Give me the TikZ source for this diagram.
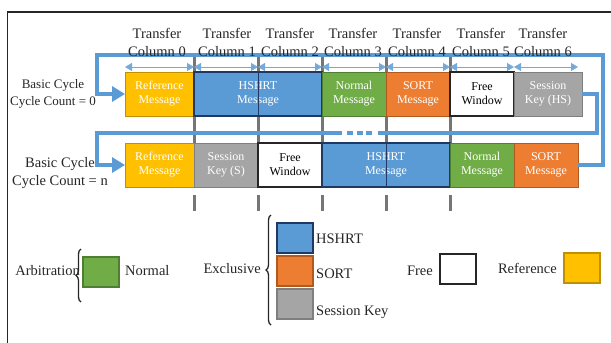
\documentclass[tikz,border=0pt]{standalone}
\usepackage{fontspec}
\setmainfont{Liberation Serif}
\usepackage{xcolor}
\usetikzlibrary{positioning,arrows.meta,calc,decorations.pathreplacing}
\definecolor{cRef}{HTML}{FFC000}
\definecolor{cRefD}{HTML}{BF9000}
\definecolor{cHs}{HTML}{5B9BD5}
\definecolor{cHsD}{HTML}{203864}
\definecolor{cNorm}{HTML}{70AD47}
\definecolor{cNormD}{HTML}{507E32}
\definecolor{cSort}{HTML}{ED7D31}
\definecolor{cSortD}{HTML}{AE5A21}
\definecolor{cKey}{HTML}{A5A5A5}
\definecolor{cKeyD}{HTML}{7F7F7F}
\definecolor{cLoop}{HTML}{5B9BD5}
\definecolor{cTick}{HTML}{767676}
\definecolor{cOut}{HTML}{262626}
\tikzset{
  fig/slot/.style={draw, line width=0.9pt, minimum height=44pt, minimum width=64pt,
                   inner sep=0pt, outer sep=0pt, align=center, text=white,
                   font=\fontsize{12}{14}\selectfont},
  fig/refslot/.style ={fig/slot, fill=cRef, draw=cRefD, minimum width=69pt},
  fig/hsslot/.style  ={fig/slot, fill=cHs, draw=cHsD, line width=1.3pt, minimum width=128pt},
  fig/normslot/.style={fig/slot, fill=cNorm, draw=cNormD},
  fig/sortslot/.style={fig/slot, fill=cSort, draw=cSortD},
  fig/keyslot/.style ={fig/slot, fill=cKey, draw=cKeyD},
  fig/freeslot/.style={fig/slot, fill=white, draw=cOut, line width=1.3pt, text=black},
  fig/loop/.style    ={cLoop, line width=3.4pt},
  fig/looparr/.style ={fig/loop, -{Triangle[length=13pt, width=15pt]}},
  fig/span/.style    ={{Triangle[length=7pt, width=8pt]}-{Triangle[length=7pt, width=8pt]},
                       cLoop!85, line width=0.9pt},
  fig/tick/.style    ={cTick, line width=3pt},
  fig/inner/.style   ={cHsD, line width=0.6pt},
  fig/key/.style     ={draw, line width=1.5pt, minimum width=36pt, minimum height=30pt,
                       inner sep=0pt, outer sep=0pt},
  fig/brace/.style   ={decorate, decoration={brace, amplitude=5pt}, line width=1.3pt, cOut},
  fig/lbl/.style     ={font=\fontsize{14.5}{18}\selectfont, inner sep=0pt, text=cOut},
  fig/frame/.style   ={cOut, line width=1.4pt}
}

\begin{document}
\begin{tikzpicture}[x=1pt, y=-1pt]
    \useasboundingbox (0,0) rectangle (611,343);
    \draw[fig/frame] (611,12) -- (7.5,12) -- (7.5,343);

    % --- column boundaries ---
    \foreach \i/\bx in {0/125,1/194,2/258,3/322,4/386,5/450,6/514,7/578}
      \coordinate (b\i) at (\bx,67);
    \coordinate (loopx) at (97,0);
    \coordinate (outR) at (603,55);
    \coordinate (gapL) at (342,133);
    \coordinate (gapR) at (378,133);

    % --- gray column marks (behind the slots) ---
    \foreach \i in {1,...,5} {
      \draw[fig/tick] ([yshift=10pt]b\i) -- ([yshift=-5pt]b\i);
      \draw[fig/tick] ([yshift=-49pt]b\i) -- ([yshift=-77pt]b\i);
      \draw[fig/tick] ([yshift=-128pt]b\i) -- ([yshift=-144pt]b\i);
    }

    % --- basic cycle 0 ---
    \node[fig/refslot, anchor=north west] (ref1) at (125,72) {Reference\\Message};
    \node[fig/hsslot, right=0pt of ref1] (hs1) {HSHRT\\Message};
    \node[fig/normslot, right=0pt of hs1] (nm1) {Normal\\Message};
    \node[fig/sortslot, right=0pt of nm1] (so1) {SORT\\Message};
    \node[fig/freeslot, right=0pt of so1] (fw1) {Free\\Window};
    \node[fig/keyslot, right=0pt of fw1, minimum width=68pt] (sk1) {Session\\Key (HS)};

    % --- basic cycle n ---
    \node[fig/refslot, below=27pt of ref1] (ref2) {Reference\\Message};
    \node[fig/keyslot, right=0pt of ref2] (sk2) {Session\\Key (S)};
    \node[fig/freeslot, right=0pt of sk2] (fw2) {Free\\Window};
    \node[fig/hsslot, right=0pt of fw2] (hs2) {HSHRT\\Message};
    \node[fig/normslot, right=0pt of hs2] (nm2) {Normal\\Message};
    \node[fig/sortslot, right=0pt of nm2] (so2) {SORT\\Message};

    \draw[fig/inner] (b2 |- hs1.north) -- (b2 |- hs1.south);
    \draw[fig/inner] (b4 |- hs2.north) -- (b4 |- hs2.south);

    % --- column spans ---
    \foreach \i [count=\j] in {0,...,6}
      \draw[fig/span] (b\i) -- (b\j);

    % --- cycle loops ---
    \draw[fig/loop] (sk1.east) -- ++(15,0) |- (gapR);
    \draw[fig/loop, dash pattern=on 6pt off 3.5pt] ([xshift=5pt]gapL) -- ([xshift=-5pt]gapR);
    \draw[fig/looparr] (gapL) -- (gapL -| loopx) |- (ref2.west);
    \draw[fig/looparr] (so2.east) -| (outR) -- (outR -| loopx) |- (ref1.west);

    % --- column labels ---
    \foreach \k/\cx in {0/157,1/227,2/290,3/353,4/417,5/481,6/543}
      \node[fig/lbl, align=center] (col\k) at (\cx,42.5) {Transfer\\Column \k};

    % --- cycle labels ---
    \node[fig/lbl, align=center, font=\fontsize{13}{17}\selectfont] (cyc0) at (53,94)
         {Basic Cycle\\Cycle Count = 0};
    \node[fig/lbl, align=center] (cycn) at (60,173) {Basic Cycle\\Cycle Count = n};

    % --- legend ---
    \node[fig/key, fill=cNorm, draw=cNormD, anchor=north west] (kNorm) at (83,257) {};
    \node[fig/lbl, anchor=base west] (tNorm) at (125,275) {Normal};
    \node[fig/lbl, anchor=base east] (tArb) at (80,275) {Arbitration};
    \draw[fig/brace] ([shift={(-2,15)}]kNorm.south west) -- ([shift={(-2,-8)}]kNorm.north west);

    \node[fig/key, fill=cHs, draw=cHsD, anchor=north west] (kHs) at (277,223) {};
    \node[fig/key, fill=cSort, draw=cSortD, below=3pt of kHs] (kSort) {};
    \node[fig/key, fill=cKey, draw=cKeyD, below=3pt of kSort] (kKey) {};
    \node[fig/lbl, anchor=base west] (tHs) at (316,243) {HSHRT};
    \node[fig/lbl, anchor=base west] (tSort) at (316,278) {SORT};
    \node[fig/lbl, anchor=base west] (tKey) at (316,315) {Session Key};
    \node[fig/lbl, anchor=base east] (tExc) at (261,273) {Exclusive};
    \draw[fig/brace] ([shift={(-6,6)}]kKey.south west) -- ([shift={(-6,-8)}]kHs.north west);

    \node[fig/lbl, anchor=base east] (tFree) at (433,275) {Free};
    \node[fig/key, fill=white, draw=cOut, anchor=north west] (kFree) at (440,254) {};
    \node[fig/lbl, anchor=base east] (tRef) at (557,273) {Reference};
    \node[fig/key, fill=cRef, draw=cRefD, anchor=north west] (kRef) at (564,253) {};
\end{tikzpicture}
\end{document}
